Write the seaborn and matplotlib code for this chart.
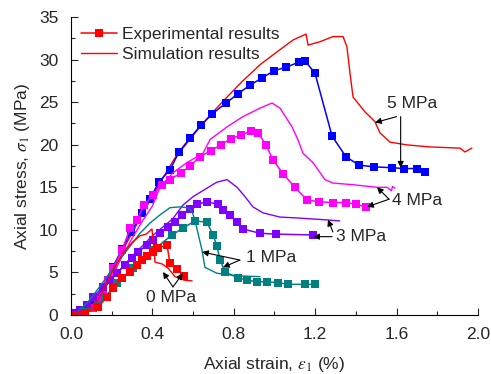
import numpy as np
import pandas as pd
import matplotlib
matplotlib.use("Agg")
import matplotlib.pyplot as plt
import seaborn as sns
from matplotlib.ticker import MultipleLocator

# ---- data (strain %, stress MPa) ----
# 5 MPa
exp5_x = [0.0, 0.05, 0.10, 0.118, 0.157, 0.206, 0.251, 0.295, 0.349, 0.388, 0.432, 0.486, 0.531,
          0.585, 0.639, 0.693, 0.762, 0.821, 0.880, 0.939, 0.998, 1.057, 1.120, 1.150, 1.199,
          1.283, 1.351, 1.415, 1.489, 1.577, 1.636, 1.700, 1.740]
exp5_y = [0.0, 0.3, 0.9, 1.41, 3.29, 5.64, 7.76, 9.75, 11.99, 13.63, 15.63, 17.04, 19.15,
          20.8, 22.3, 23.6, 24.9, 26.0, 27.0, 27.85, 28.7, 29.1, 29.7, 29.85, 28.4,
          21.0, 18.6, 17.6, 17.4, 17.3, 17.2, 17.2, 16.8]
sim5_x = [0.0, 0.03, 0.108, 0.157, 0.206, 0.29, 0.354, 0.437, 0.511, 0.570, 0.634, 0.698, 0.767,
          0.840, 0.929, 1.012, 1.091, 1.155, 1.165, 1.224, 1.287, 1.337, 1.356, 1.371, 1.386,
          1.445, 1.494, 1.518, 1.568, 1.651, 1.764, 1.912, 1.936, 1.97]
sim5_y = [0.0, 0.23, 0.94, 3.29, 5.64, 9.17, 11.99, 15.5, 18.45, 20.2, 22.1, 23.85, 25.6,
          27.4, 29.4, 30.9, 32.3, 33.0, 31.7, 32.1, 32.7, 32.7, 31.5, 28.4, 25.6,
          23.85, 22.7, 21.4, 20.3, 19.98, 19.74, 19.6, 19.15, 19.6]

# 4 MPa
exp4_x = [0.034, 0.069, 0.108, 0.133, 0.157, 0.182, 0.206, 0.251, 0.290, 0.324, 0.359, 0.403,
          0.447, 0.486, 0.541, 0.585, 0.634, 0.688, 0.737, 0.786, 0.835, 0.885, 0.919, 0.958,
          0.993, 1.042, 1.10, 1.160, 1.219, 1.287, 1.351, 1.400, 1.450]
exp4_y = [0.0, 0.23, 0.82, 1.76, 2.35, 4.1, 5.5, 7.6, 10.2, 11.2, 12.9, 14.1,
          15.3, 15.9, 16.7, 17.5, 18.6, 19.3, 20.0, 20.7, 21.15, 21.6, 21.4, 20.0,
          18.2, 16.6, 15.0, 13.5, 13.3, 13.2, 13.2, 13.0, 12.7]
sim4_x = [0.0, 0.05, 0.10, 0.15, 0.20, 0.25, 0.30, 0.35, 0.40, 0.437, 0.501, 0.570, 0.649,
          0.683, 0.767, 0.845, 0.929, 0.988, 1.027, 1.086, 1.115, 1.140, 1.189, 1.248, 1.287,
          1.386, 1.504, 1.553, 1.575, 1.58, 1.592]
sim4_y = [0.0, 0.2, 0.9, 2.5, 4.5, 6.8, 9.0, 11.0, 12.8, 15.0, 16.7, 17.9, 19.0,
          20.6, 22.1, 23.3, 24.3, 24.9, 24.3, 22.1, 20.6, 19.0, 17.9, 15.9, 15.5,
          15.3, 15.0, 15.0, 14.6, 15.1, 14.9]

# 3 MPa
exp3_x = [0.01, 0.044, 0.079, 0.108, 0.157, 0.192, 0.226, 0.265, 0.30, 0.329, 0.373, 0.403,
          0.437, 0.477, 0.511, 0.545, 0.585, 0.619, 0.668, 0.722, 0.747, 0.781, 0.816, 0.845,
          0.929, 1.007, 1.189]
exp3_y = [0.23, 0.59, 1.18, 2.1, 3.3, 4.1, 4.9, 5.9, 6.7, 7.4, 8.2, 8.8,
          9.6, 10.3, 10.9, 11.75, 12.45, 13.0, 13.3, 13.0, 12.3, 11.75, 10.9, 10.1,
          9.6, 9.5, 9.4]
sim3_x = [0.0, 0.05, 0.10, 0.20, 0.30, 0.40, 0.50, 0.55, 0.60, 0.668, 0.717, 0.767, 0.816,
          0.855, 0.894, 0.943, 1.027, 1.11, 1.238, 1.32]
sim3_y = [0.0, 0.5, 1.6, 4.2, 6.9, 9.3, 11.3, 12.9, 13.9, 14.9, 15.6, 15.9, 15.0,
          13.9, 12.7, 12.0, 11.5, 11.4, 11.2, 11.05]

# 1 MPa
exp1_x = [0.0, 0.069, 0.133, 0.167, 0.226, 0.305, 0.403, 0.496, 0.55, 0.609, 0.668, 0.698,
          0.717, 0.732, 0.757, 0.821, 0.865, 0.914, 0.963, 1.017, 1.066, 1.15, 1.199]
exp1_y = [0.0, 0.35, 1.2, 2.1, 3.8, 5.5, 7.6, 9.4, 10.2, 11.05, 10.9, 9.4,
          8.1, 6.5, 5.05, 4.35, 4.1, 3.9, 3.9, 3.8, 3.6, 3.6, 3.6]
sim1_x = [0.0, 0.03, 0.079, 0.128, 0.177, 0.226, 0.275, 0.339, 0.388, 0.437, 0.486, 0.536,
          0.575, 0.595, 0.609, 0.624, 0.644, 0.658, 0.717, 0.816, 0.929]
sim1_y = [0.0, 0.35, 1.4, 2.9, 4.5, 6.1, 7.6, 9.6, 10.8, 11.75, 12.6, 12.7,
          12.6, 12.1, 11.2, 9.6, 7.6, 5.6, 4.9, 4.6, 4.5]

# 0 MPa
exp0_x = [0.0, 0.069, 0.133, 0.177, 0.206, 0.251, 0.29, 0.324, 0.349, 0.373, 0.403, 0.428,
          0.472, 0.486, 0.521, 0.555]
exp0_y = [0.0, 0.23, 0.94, 2.1, 3.2, 4.35, 5.05, 5.9, 6.5, 6.9, 7.4, 7.9,
          8.2, 6.1, 5.4, 4.6]
sim0_x = [0.0, 0.084, 0.133, 0.177, 0.216, 0.255, 0.30, 0.339, 0.369, 0.398, 0.403, 0.413,
          0.447, 0.477, 0.511, 0.555, 0.595]
sim0_y = [0.0, 0.6, 1.76, 3.76, 5.64, 7.3, 8.5, 9.3, 9.5, 10.1, 8.8, 6.2,
          6.0, 5.5, 4.5, 4.1, 4.0]

series = [
    ("5 MPa", "#0000FF", exp5_x, exp5_y, sim5_x, sim5_y),
    ("4 MPa", "#FF00FF", exp4_x, exp4_y, sim4_x, sim4_y),
    ("3 MPa", "#8000FF", exp3_x, exp3_y, sim3_x, sim3_y),
    ("1 MPa", "#008080", exp1_x, exp1_y, sim1_x, sim1_y),
    ("0 MPa", "#FF0000", exp0_x, exp0_y, sim0_x, sim0_y),
]
sim_colors = {"5 MPa": "#FF0000"}

sns.set_style("ticks")
plt.rcParams['font.family'] = ['Liberation Sans', 'DejaVu Sans']
plt.rcParams['mathtext.fontset'] = 'stix'
FS = 12.5

fig = plt.figure(figsize=(4.91, 3.74), dpi=100)
ax = fig.add_axes([0.1446, 0.1578, 0.8289, 0.7967])

for name, col, ex, ey, sx, sy in series:
    sns.lineplot(x=sx, y=sy, ax=ax, sort=False, estimator=None,
                 color=sim_colors.get(name, col), lw=1.0)
    sns.lineplot(x=ex, y=ey, ax=ax, sort=False, estimator=None, color=col, lw=1.1,
                 marker='s', markersize=6, markeredgewidth=0)

# legend proxies
ax.plot([], [], color='#FF0000', lw=1.1, marker='s', markersize=6, markeredgewidth=0,
        label='Experimental results')
ax.plot([], [], color='#FF0000', lw=1.0, label='Simulation results')
leg = ax.legend(loc='upper left', bbox_to_anchor=(0.007, 0.99), frameon=False,
                fontsize=FS, handlelength=2.1, handletextpad=0.3, labelspacing=0.3,
                borderaxespad=0.0)

# annotations: (label, text position, [(start, tip), ...])
notes = [
    ("5 MPa", (1.676, 24.8), [((1.60, 23.3), (1.494, 22.6)), ((1.62, 23.3), (1.62, 17.3))]),
    ("4 MPa", (1.70, 13.5), [((1.563, 13.6), (1.504, 15.0)), ((1.563, 13.6), (1.455, 12.7))]),
    ("3 MPa", (1.425, 9.2), [((1.287, 9.75), (1.263, 11.2)), ((1.283, 9.2), (1.19, 9.2))]),
    ("1 MPa", (0.983, 6.8), [((0.83, 6.45), (0.644, 7.4)), ((0.83, 6.45), (0.747, 5.6))]),
    ("0 MPa", (0.49, 2.1), [((0.501, 3.3), (0.452, 5.05)), ((0.501, 3.3), (0.55, 4.9))]),
]
for txt, pos, arrows in notes:
    ax.text(pos[0], pos[1], txt, ha='center', va='center', fontsize=FS)
    for st, tip in arrows:
        ax.annotate('', xy=tip, xytext=st,
                    arrowprops=dict(arrowstyle='-|>', color='black', lw=0.8,
                                    mutation_scale=9, shrinkA=0, shrinkB=0))

ax.set_xlim(0, 2.0)
ax.set_ylim(0, 35)
ax.xaxis.set_major_locator(MultipleLocator(0.4))
ax.xaxis.set_minor_locator(MultipleLocator(0.2))
ax.yaxis.set_major_locator(MultipleLocator(5))
ax.yaxis.set_minor_locator(MultipleLocator(2.5))
ax.set_xticks(np.arange(0, 2.01, 0.4))
ax.set_xticklabels([f"{v:.1f}" for v in np.arange(0, 2.01, 0.4)])
ax.tick_params(which='major', direction='in', length=5, width=0.8, labelsize=FS)
ax.tick_params(axis='x', which='major', pad=9)
ax.tick_params(axis='y', which='major', pad=9)
ax.tick_params(which='minor', direction='in', length=3, width=0.8)
sns.despine(ax=ax)
for s in ['left', 'bottom']:
    ax.spines[s].set_linewidth(0.8)
    ax.spines[s].set_color('black')

ax.set_xlabel(r'Axial strain, $\varepsilon_1$ (%)', fontsize=FS, labelpad=9)
ax.set_ylabel(r'Axial stress, $\sigma_1$ (MPa)', fontsize=FS, labelpad=5)

fig.savefig('out.png', dpi=100)
